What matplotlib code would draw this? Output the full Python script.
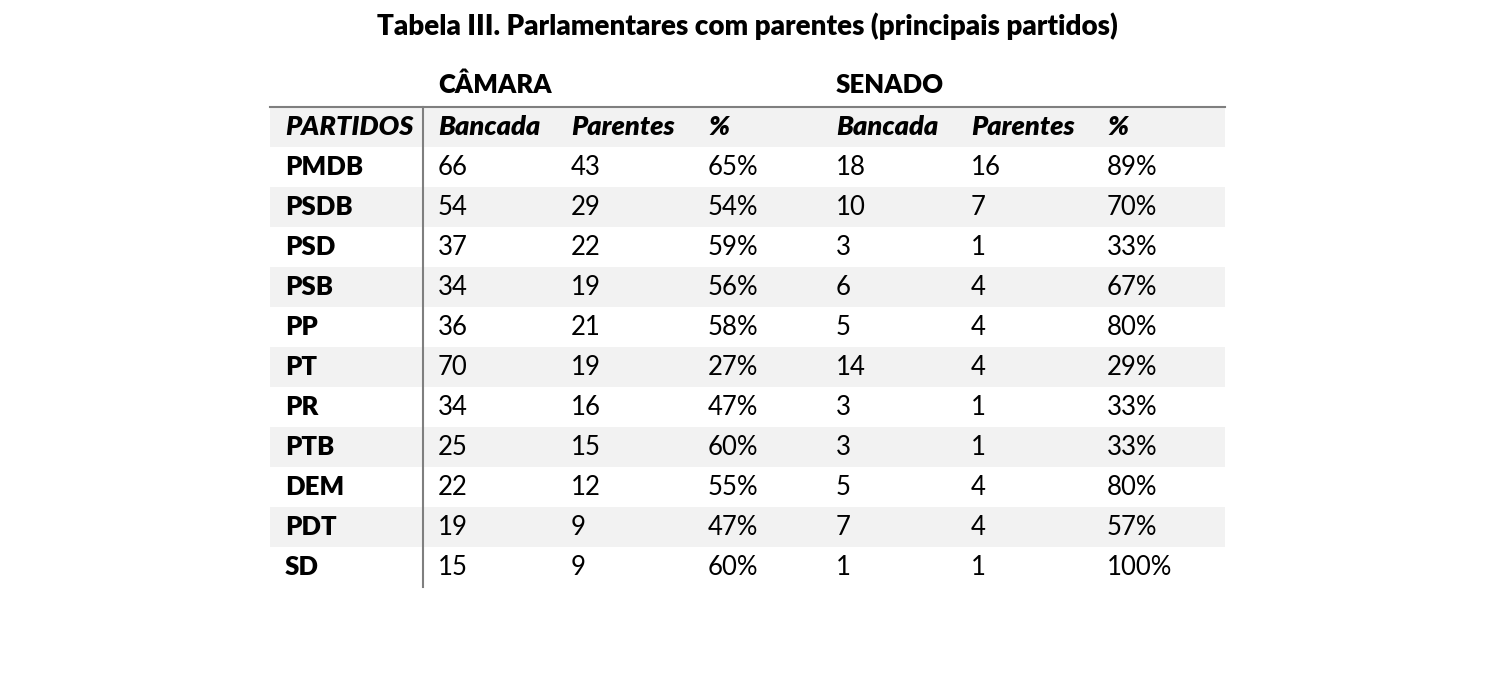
import matplotlib
matplotlib.use('Agg')
import matplotlib.pyplot as plt

title = 'Tabela III. Parlamentares com parentes (principais partidos)'
groups = ['CÂMARA', 'SENADO']
header = ['PARTIDOS', 'Bancada', 'Parentes', '%', 'Bancada', 'Parentes', '%']
partidos = ['PMDB', 'PSDB', 'PSD', 'PSB', 'PP', 'PT', 'PR', 'PTB', 'DEM', 'PDT', 'SD']
camara_bancada = [66, 54, 37, 34, 36, 70, 34, 25, 22, 19, 15]
camara_parentes = [43, 29, 22, 19, 21, 19, 16, 15, 12, 9, 9]
camara_pct = ['65%', '54%', '59%', '56%', '58%', '27%', '47%', '60%', '55%', '47%', '60%']
senado_bancada = [18, 10, 3, 6, 5, 14, 3, 3, 5, 7, 1]
senado_parentes = [16, 7, 1, 4, 4, 4, 1, 1, 4, 4, 1]
senado_pct = ['89%', '70%', '33%', '67%', '80%', '29%', '33%', '33%', '80%', '57%', '100%']

plt.rcParams['font.family'] = ['Lato', 'DejaVu Sans']

fig = plt.figure(figsize=(15, 6.74), dpi=100)
ax = fig.add_axes([0, 0, 1, 1])
ax.set_xlim(0, 1500)
ax.set_ylim(674, 0)
ax.axis('off')

# layout in pixel units
col_x = [285, 438, 571, 708, 836, 971, 1107]
left, right = 270, 1225
top = 107
row_h = 40.0
shade = '#f2f2f2'
fs = 18.5
base_off = 8  # baseline below row centre

ax.text(747, 27 + base_off, title, ha='center', va='baseline', fontsize=20,
        fontweight='heavy')
ax.text(col_x[1], 85 + base_off, groups[0], ha='left', va='baseline', fontsize=fs,
        fontweight='heavy')
ax.text(col_x[4], 85 + base_off, groups[1], ha='left', va='baseline', fontsize=fs,
        fontweight='heavy')

columns = [camara_bancada, camara_parentes, camara_pct,
           senado_bancada, senado_parentes, senado_pct]
n_rows = len(partidos) + 1
for r in range(n_rows):
    y0 = top + r * row_h
    if r % 2 == 0:
        ax.fill_between([left, right], y0, y0 + row_h, color=shade, lw=0, zorder=0)
    yb = y0 + row_h / 2 + base_off
    if r == 0:
        for x, h in zip(col_x, header):
            ax.text(x, yb, h, ha='left', va='baseline', fontsize=19.5,
                    fontweight='heavy', fontstyle='italic')
    else:
        i = r - 1
        ax.text(col_x[0], yb, partidos[i], ha='left', va='baseline', fontsize=fs,
                fontweight='heavy')
        for x, col in zip(col_x[1:], columns):
            ax.text(x, yb, str(col[i]), ha='left', va='baseline', fontsize=fs)

ax.plot([left, right], [top, top], color='#7f7f7f', lw=1.5)
ax.plot([423, 423], [top, top + n_rows * row_h], color='#7f7f7f', lw=1.5)

fig.savefig('out.png', dpi=100)
